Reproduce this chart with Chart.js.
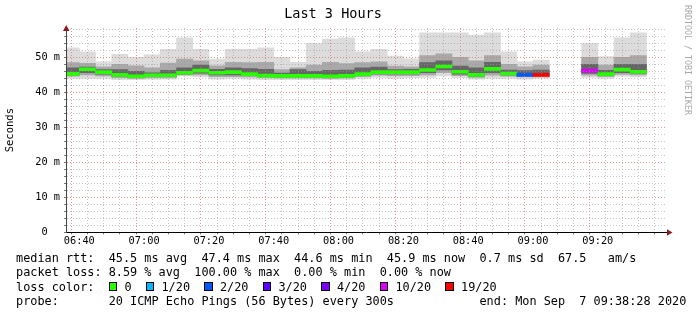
<!DOCTYPE html>
<html>
<head>
<meta charset="utf-8">
<script src="https://cdn.jsdelivr.net/npm/chart.js@4.4.0/dist/chart.umd.min.js"></script>
<style>
  html, body { margin: 0; padding: 0; background: #fff; }
  #wrap { position: relative; width: 697px; height: 315px; overflow: hidden; }
  #chart { position: absolute; left: 0; top: 0; }
  .legend {
    position: absolute; left: 16px; top: 251px; margin: 0;
    font: 11.85px "DejaVu Sans Mono", monospace; line-height: 14.33px;
    color: #000; white-space: pre;
  }
  .sw {
    display: inline-block; width: 6.5px; height: 6.5px;
    border: 1px solid #000; margin-right: 7.2px; vertical-align: baseline;
  }
  .credit {
    position: absolute; left: 683px; top: 5px; writing-mode: vertical-rl;
    font: 8.3px "DejaVu Sans Mono", monospace; color: #a8a8a8; white-space: pre;
  }
</style>
</head>
<body>
<div id="wrap">
  <canvas id="chart" width="697" height="315"></canvas>
  <div class="credit">RRDTOOL / TOBI OETIKER</div>
  <div class="legend" id="legend"></div>
</div>
<script>
// ---- data (RTT in ms, 5 minute steps) ----
const endTime = "09:38:28";
const spanMinutes = 180;
const stepMinutes = 5;

const stepEnds = [
  "06:40", "06:45", "06:50", "06:55", "07:00", "07:05", "07:10", "07:15", "07:20",
  "07:25", "07:30", "07:35", "07:40", "07:45", "07:50", "07:55", "08:00", "08:05",
  "08:10", "08:15", "08:20", "08:25", "08:30", "08:35", "08:40", "08:45", "08:50",
  "08:55", "09:00", "09:05", "09:10", "09:15", "09:20", "09:25", "09:30", "09:35"
];
const rttMax = [52.7, 51.6, 48.7, 50.9, 50.0, 50.7, 52.3, 55.6, 52.3, 49.5, 52.3, 52.3,
  52.7, 50.0, 48.6, 54.0, 55.2, 55.6, 51.6, 52.3, 50.4, 49.6, 57.0, 57.0, 57.0, 56.4,
  57.0, 51.6, 48.7, 49.2, null, null, 54.0, 50.2, 55.6, 57.0];
const rttP75 = [48.5, 48.3, 47.3, 48.0, 47.6, 47.0, 48.4, 49.5, 49.0, 47.6, 48.6, 48.5,
  48.6, 46.5, 47.0, 47.8, 48.6, 48.2, 48.5, 48.7, 47.5, 47.3, 50.5, 51.0, 50.0, 49.0,
  50.5, 48.0, 47.3, 47.8, null, null, 50.0, 47.8, 50.0, 50.5];
const rttP60 = [47.0, 47.2, 46.5, 46.5, 46.0, 45.6, 46.3, 47.0, 47.8, 46.6, 47.0, 46.8,
  46.6, 45.5, 46.5, 46.0, 46.3, 46.4, 47.0, 47.2, 46.5, 46.6, 48.5, 49.0, 47.5, 47.0,
  48.6, 46.4, 46.2, 46.4, null, null, 48.0, 46.3, 48.0, 48.0];
const rttMedian = [45.3, 46.6, 45.8, 45.0, 44.6, 44.9, 44.9, 45.6, 46.2, 45.6, 45.8, 45.2,
  44.8, 44.7, 44.7, 44.7, 44.6, 44.7, 45.2, 45.8, 45.8, 45.8, 46.4, 47.4, 45.9, 45.0,
  46.7, 45.4, 45.0, 45.0, null, null, 46.2, 45.2, 46.5, 45.9];
const rttP40 = [45.0, 45.6, 45.2, 44.6, 44.3, 44.6, 44.6, 45.2, 45.5, 45.0, 45.0, 44.8,
  44.5, 44.4, 44.4, 44.4, 44.3, 44.4, 44.9, 45.3, 45.3, 45.3, 45.6, 46.4, 45.2, 44.6,
  45.6, 45.0, 44.7, 44.7, null, null, 45.4, 44.9, 45.6, 45.5];
const rttP25 = [44.6, 45.0, 44.7, 44.2, 44.0, 44.2, 44.2, 45.0, 45.0, 44.5, 44.5, 44.4,
  44.2, 44.1, 44.1, 44.1, 44.0, 44.1, 44.5, 44.9, 44.8, 44.8, 45.0, 45.6, 44.8, 44.3,
  44.9, 44.6, 44.4, 44.4, null, null, 44.9, 44.5, 45.1, 45.0];
const rttMin = [44.0, 44.0, 44.0, 43.6, 43.6, 43.7, 43.8, 44.7, 44.4, 43.8, 44.0, 43.8,
  43.6, 43.6, 43.6, 43.6, 43.6, 43.6, 44.0, 44.3, 44.0, 44.2, 44.3, 44.7, 44.2, 43.8,
  44.0, 44.0, 43.8, 44.0, null, null, 44.3, 44.0, 44.6, 44.4];
// pings lost out of 20 in each step
const lossCount = [0, 0, 0, 0, 0, 0, 0, 0, 0, 0, 0, 0, 0, 0, 0, 0, 0, 0, 0, 0, 0, 0,
  0, 0, 0, 0, 0, 0, 2, 19, null, null, 10, 0, 0, 0];

const lossLevels = [0, 1, 2, 3, 4, 10, 19];
const lossLabels = ["0", "1/20", "2/20", "3/20", "4/20", "10/20", "19/20"];
const lossColors = ["#26ff00", "#00b8ff", "#0059ff", "#5e00ff", "#7e00ff", "#dd00ff", "#ff0000"];

const yTop = 58.4;
const medianRtt = ["45.5 ms avg", "47.4 ms max", "44.6 ms min", "45.9 ms now", "0.7 ms sd", "67.5   am/s"];
const packetLoss = ["8.59 % avg", "100.00 % max", "0.00 % min", "0.00 % now"];
const probeText = "20 ICMP Echo Pings (56 Bytes) every 300s";
const endText = "end: Mon Sep  7 09:38:28 2020";

// ---- helpers ----
const toMin = s => {
  const [h, m, sec] = s.split(":").map(Number);
  return h * 60 + m + (sec || 0) / 60;
};
const xMax = toMin(endTime);
const xMin = xMax - spanMinutes;
const pad2 = n => String(n).padStart(2, "0");
const fmtTime = v => pad2(Math.floor(v / 60)) + ":" + pad2(Math.round(v % 60));

const lossColor = n => {
  if (n == null) return "transparent";
  let c = lossColors[0];
  lossLevels.forEach((lv, i) => { if (n >= lv) c = lossColors[i]; });
  return c;
};

// floating bars between two series, one bar per 5 minute step
const band = (lo, hi) => stepEnds.map((t, i) => ({
  x: toMin(t) - stepMinutes / 2,
  y: lo[i] == null || hi[i] == null ? null : [lo[i], hi[i]]
}));
const medianHalf = 0.43; // half thickness of the median stroke, ms
const medianBars = stepEnds.map((t, i) => ({
  x: toMin(t) - stepMinutes / 2,
  y: rttMedian[i] == null ? null : [rttMedian[i] - medianHalf, rttMedian[i] + medianHalf]
}));

const barBase = {
  type: "bar", grouped: false, barPercentage: 1, categoryPercentage: 1,
  borderWidth: 0, clip: 0
};

const mono = "'DejaVu Sans Mono', monospace";
const minorGrid = "rgba(150,150,150,0.55)";
const majorGrid = "rgba(225,110,110,0.75)";

// x ticks every 5 minutes, on whole 5 minute marks
const fiveMinuteTicks = scale => {
  const ticks = [];
  for (let v = Math.ceil(xMin / stepMinutes) * stepMinutes; v <= xMax; v += stepMinutes) {
    ticks.push({ value: v });
  }
  scale.ticks = ticks;
};

const axisArrows = {
  id: "axisArrows",
  afterDraw(chart) {
    const { ctx, chartArea: a } = chart;
    ctx.save();
    ctx.fillStyle = "#8b1a1a";
    ctx.beginPath();
    ctx.moveTo(a.left - 3, a.top + 3);
    ctx.lineTo(a.left + 3.5, a.top + 3);
    ctx.lineTo(a.left + 0.25, a.top - 3);
    ctx.closePath();
    ctx.fill();
    ctx.beginPath();
    ctx.moveTo(a.right + 1, a.bottom - 3);
    ctx.lineTo(a.right + 1, a.bottom + 3.5);
    ctx.lineTo(a.right + 6.5, a.bottom + 0.25);
    ctx.closePath();
    ctx.fill();
    ctx.restore();
  }
};

new Chart(document.getElementById("chart"), {
  data: {
    datasets: [
      { ...barBase, order: 4, data: band(rttMin, rttMax), backgroundColor: "#dcdcdc" },
      { ...barBase, order: 3, data: band(rttP25, rttP75), backgroundColor: "#a9a9a9" },
      { ...barBase, order: 2, data: band(rttP40, rttP60), backgroundColor: "#666666" },
      { ...barBase, order: 1, data: medianBars, backgroundColor: lossCount.map(lossColor) }
    ]
  },
  plugins: [axisArrows],
  options: {
    responsive: false,
    animation: false,
    layout: { padding: { left: 0, right: 31, top: 0, bottom: 0 } },
    plugins: {
      legend: { display: false },
      tooltip: { enabled: false },
      title: {
        display: true, text: "Last 3 Hours", color: "#000",
        font: { family: mono, size: 13.5, weight: "normal" },
        padding: { top: 6, bottom: 5.8 }
      }
    },
    scales: {
      x: {
        type: "linear", min: xMin, max: xMax,
        afterBuildTicks: fiveMinuteTicks,
        afterFit: s => { s.height = 315 - 232.3; },
        ticks: {
          autoSkip: false, maxRotation: 0, padding: 1, color: "#000",
          font: { family: mono, size: 10.3 },
          callback: v => (Math.round(v) % 20 === 0 ? fmtTime(Math.round(v)) : "")
        },
        grid: {
          z: 1, drawTicks: true, tickLength: 2, tickColor: "#777",
          color: c => (c.tick && Math.round(c.tick.value) % 20 === 0 ? majorGrid : minorGrid)
        },
        border: { color: "#000", z: 2, dash: [1, 2] }
      },
      y: {
        min: 0, max: yTop,
        afterFit: s => { s.width = 66; },
        ticks: {
          stepSize: 2, includeBounds: false, autoSkip: false, maxTicksLimit: 100,
          padding: 4, color: "#000", font: { family: mono, size: 10.3 },
          callback: v => (v % 10 === 0 ? (v === 0 ? "0  " : v + " m") : "")
        },
        grid: {
          z: 1, drawTicks: true, tickLength: 2, tickColor: "#777",
          color: c => {
            const v = c.tick ? c.tick.value : 0;
            if (v === 0) return "transparent";
            return v % 10 === 0 ? majorGrid : minorGrid;
          }
        },
        border: { color: "#444", z: 2, dash: [1, 2] },
        title: {
          display: true, text: "Seconds", color: "#000",
          font: { family: mono, size: 10.5 },
          padding: { top: 3.7, bottom: 0 }
        }
      }
    }
  }
});

// ---- text legend under the graph ----
const legendEl = document.getElementById("legend");
const swatches = lossLabels.map((l, i) =>
  `<span class="sw" style="background:${lossColors[i]}"></span>${l}`).join("  ");
legendEl.innerHTML = [
  "median rtt:  " + medianRtt.join("  "),
  "packet loss: " + packetLoss.join("  "),
  "loss color:  " + swatches,
  "probe:       " + probeText + " ".repeat(12) + endText
].join("\n");
</script>
</body>
</html>
